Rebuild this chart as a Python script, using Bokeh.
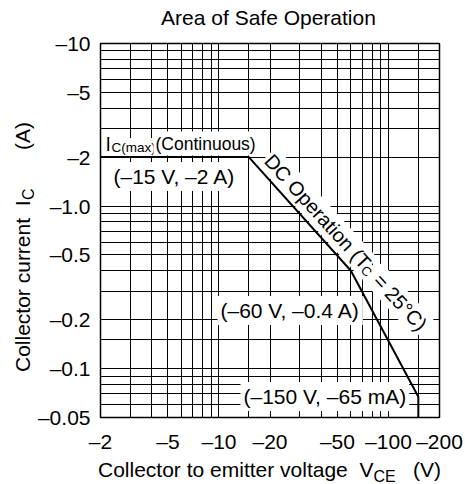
import math
from bokeh.plotting import figure
from bokeh.models import FixedTicker, Label, Div
from bokeh.layouts import row, column
from bokeh.embed import file_html
from bokeh.resources import INLINE

# ---- data (datasheet values are negative: PNP transistor) ----
vce_v = [-2, -15, -60, -150, -150]          # collector-emitter voltage (V)
ic_a = [-2, -2, -0.4, -0.067, -0.05]         # collector current (A)

x_tick_vals = [-2, -5, -10, -20, -50, -100, -200]
x_tick_text = ["–2", "–5", "–10", "–20", "–50", "–100", "–200"]
y_tick_vals = [-0.05, -0.1, -0.2, -0.5, -1.0, -2, -5, -10]
y_tick_text = ["–0.05", "–0.1", "–0.2", "–0.5", "–1.0", "–2", "–5", "–10"]

x_grid_vals = [-3, -4, -5, -6, -7, -8, -9, -10, -15, -20, -30, -40, -50,
               -60, -70, -80, -90, -100, -150]
y_grid_vals = [-0.06, -0.07, -0.08, -0.09, -0.1, -0.15, -0.2, -0.3, -0.4,
               -0.5, -0.6, -0.7, -0.8, -0.9, -1, -2, -3, -4, -5, -6, -7, -8, -9]

title_text = "Area of Safe Operation"

FONT = "Liberation Sans"
CSS_FONT = "'Liberation Sans', Arial, sans-serif"

TOTAL_W, TOTAL_H = 465, 484
TOP_H = 30           # title strip height
LEFT_W = 34          # y-label strip width
P_TOP = TOP_H        # page y of figure top
P_H = 456 - TOP_H    # figure height
FRAME_L, FRAME_T, FRAME_R, FRAME_B = 98, 43, 439, 417   # page px of plot frame

p = figure(width=TOTAL_W - LEFT_W, height=P_H, x_axis_type="log", y_axis_type="log",
           x_range=(2, 200), y_range=(0.05, 10),
           output_backend="svg", toolbar_location=None,
           min_border_left=FRAME_L - LEFT_W, min_border_right=TOTAL_W - FRAME_R,
           min_border_top=FRAME_T - P_TOP, min_border_bottom=P_TOP + P_H - FRAME_B)
p.background_fill_color = "white"
p.border_fill_color = "white"
p.outline_line_color = "black"
p.outline_line_width = 1.5

for ax, vals, texts in ((p.xaxis, x_tick_vals, x_tick_text),
                        (p.yaxis, y_tick_vals, y_tick_text)):
    mags = [abs(v) for v in vals]
    ax.ticker = FixedTicker(ticks=mags)
    ax.major_label_overrides = {m: t for m, t in zip(mags, texts)}
    ax.major_tick_line_color = None
    ax.minor_tick_line_color = None
    ax.axis_line_color = None
    ax.major_tick_in = 0
    ax.major_tick_out = 0
    ax.major_label_text_font = FONT
    ax.major_label_text_font_size = "21px"
    ax.major_label_text_color = "black"
p.xaxis.major_label_standoff = 12
p.yaxis.major_label_standoff = 10

p.xgrid.ticker = FixedTicker(ticks=[abs(v) for v in x_grid_vals])
p.ygrid.ticker = FixedTicker(ticks=[abs(v) for v in y_grid_vals])
for g in (p.xgrid, p.ygrid):
    g.grid_line_color = "black"
    g.grid_line_alpha = 1.0
    g.grid_line_width = 1

# SOA boundary
p.line([abs(v) for v in vce_v], [abs(v) for v in ic_a],
       line_color="black", line_width=2, level="overlay")

# ---- in-plot text (page px converted to frame-relative screen units) ----
NB = "\u00a0"
LIFT = 7   # empirical correction of the label baseline (px, text-local "up")


def put(text, px, py, size, angle=0.0, bg=None, pad=0):
    kw = {}
    if bg:
        kw = dict(background_fill_color=bg, padding=pad)
    # lift in the text's own frame (angle is counter-clockwise, screen y-down)
    px2 = px - LIFT * math.sin(angle)
    py2 = py - LIFT * math.cos(angle)
    p.add_layout(Label(x=px2 - FRAME_L, y=FRAME_B - py2, x_units="screen", y_units="screen",
                       text=text, text_font=FONT, text_font_size=f"{size}px",
                       text_color="black", text_align="left",
                       text_baseline="alphabetic", angle=angle, **kw))


# I_C(max) label
put("I", 101, 150, 20, bg="white", pad=2)
put("C(max)", 107, 154, 13.5, bg="white", pad=2)
put("(Continuous)", 151, 150, 17.5, bg="white", pad=2)

# point labels
put("(–15 V, –2 A)", 108, 183, 21, bg="white", pad=3)
put("(–60 V, –0.4 A)", 215, 317, 21, bg="white", pad=3)
put("(–150 V, –65 mA)", 238, 403, 21, bg="white", pad=3)

# DC operation label along the line
th = math.radians(47.7)
ux, uy = math.cos(th), math.sin(th)
dx, dy = -math.sin(th), math.cos(th)
ax0, ay0 = 259.3, 160.1
wA = 146.7
put("DC Operation (T", ax0, ay0, 20, angle=-th, bg="white", pad=2)
put("C", ax0 + wA * ux + 4 * dx, ay0 + wA * uy + 4 * dy, 13, angle=-th, bg="white", pad=1)
put(NB + "=" + NB + "25°C)", ax0 + (wA + 9.5) * ux, ay0 + (wA + 9.5) * uy, 20,
    angle=-th, bg="white", pad=2)


# ---- title and axis titles with subscripts (HTML) ----
def base_off(size):
    return 0.8465 * size


def vtxt(text, x_base, y_start, size, top0):
    off = base_off(size)
    return (f'<div style="position:absolute; left:0px; top:0px; transform-origin:0 0; '
            f'transform:translate({x_base - off:.1f}px,{y_start - top0:.1f}px) rotate(-90deg); '
            f'white-space:nowrap; font-family:{CSS_FONT}; font-size:{size}px; '
            f'line-height:{size}px; color:black;">{text}</div>')


def htxt(text, x_start, y_base, size, top0, width=None):
    off = base_off(size)
    extra = f"width:{width}px; text-align:center; " if width else ""
    return (f'<div style="position:absolute; left:{x_start:.1f}px; top:{y_base - top0 - off:.1f}px; '
            f'{extra}white-space:nowrap; font-family:{CSS_FONT}; font-size:{size}px; '
            f'line-height:{size}px; color:black;">{text}</div>')


ttl = (f'<div style="position:relative; width:{TOTAL_W}px; height:{TOP_H}px;">'
       + htxt(title_text, FRAME_L, 25, 21, 0, width=FRAME_R - FRAME_L)
       + '</div>')
ylab = (f'<div style="position:relative; width:{LEFT_W}px; height:{P_H}px;">'
        + vtxt("Collector current&nbsp;&nbsp;I", 30, 372, 21, P_TOP)
        + vtxt("C", 34, 200, 16, P_TOP)
        + vtxt("(A)", 30, 150, 21, P_TOP)
        + '</div>')
XL_TOP = P_TOP + P_H
xlab = (f'<div style="position:relative; width:{TOTAL_W}px; height:{TOTAL_H - XL_TOP}px;">'
        + htxt("Collector to emitter voltage&nbsp;&nbsp;V", 98, 476.5, 21, XL_TOP)
        + htxt("CE", 373.5, 482, 16, XL_TOP)
        + htxt("(V)", 413, 476.5, 21, XL_TOP)
        + '</div>')

tdiv = Div(text=ttl, width=TOTAL_W, height=TOP_H, margin=0)
ydiv = Div(text=ylab, width=LEFT_W, height=P_H, margin=0)
xdiv = Div(text=xlab, width=TOTAL_W, height=TOTAL_H - XL_TOP, margin=0)

layout = column(tdiv, row(ydiv, p, spacing=0), xdiv, spacing=0)

open("out.html", "w").write(file_html(layout, INLINE))
